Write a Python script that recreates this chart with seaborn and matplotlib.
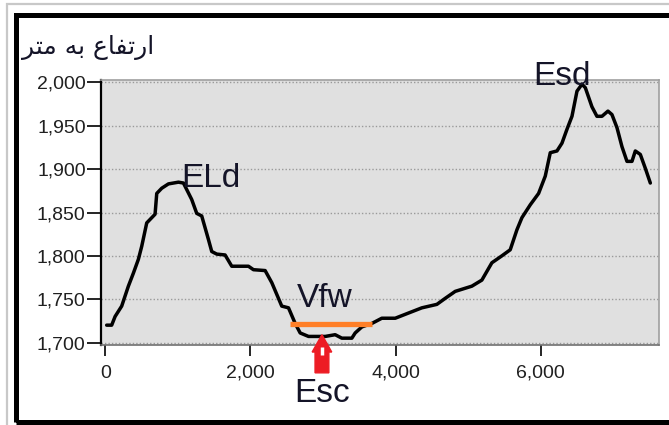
import pandas as pd
import matplotlib.pyplot as plt
import seaborn as sns
from matplotlib.patches import Rectangle, FancyArrow
from matplotlib.ticker import FuncFormatter

# distance along the profile (m) and elevation (m)
dist = [18, 87, 134, 225, 317, 386, 455, 501, 570, 685, 708, 777, 869, 1007, 1076,
        1190, 1259, 1328, 1420, 1466, 1535, 1650, 1742, 1972, 2041, 2202, 2294, 2431,
        2524, 2616, 2685, 2800, 3030, 3167, 3259, 3397, 3443, 3535, 3673, 3810, 3995,
        4178, 4362, 4569, 4685, 4822, 5051, 5189, 5327, 5465, 5580, 5672, 5741, 5857,
        5971, 6063, 6132, 6224, 6293, 6362, 6431, 6500, 6569, 6615, 6706, 6775, 6844,
        6927, 6982, 7051, 7120, 7189, 7258, 7304, 7373, 7442, 7511]
elev = [1720, 1720, 1730, 1742, 1765, 1780, 1796, 1811, 1838, 1848, 1872, 1878, 1883,
        1885, 1884, 1865, 1849, 1846, 1819, 1805, 1802, 1801, 1788, 1788, 1784, 1783,
        1769, 1742, 1740, 1722, 1711, 1707, 1707, 1709, 1705, 1705, 1711, 1718, 1722,
        1728, 1728, 1734, 1740, 1744, 1751, 1759, 1765, 1772, 1792, 1800, 1807, 1830,
        1844, 1859, 1872, 1892, 1919, 1921, 1930, 1946, 1961, 1990, 1998, 1994, 1972,
        1961, 1961, 1967, 1963, 1948, 1926, 1909, 1909, 1921, 1917, 1901, 1884]

# valley floor segment (Vfw)
vfw_x = [2547, 3673]
vfw_y = 1721

# labels: text, x, y
labels = [('ELd', 1048, 1879), ('Vfw', 2635, 1741), ('Esd', 5900, 1997)]
esc_x = 2985
esc_tip, esc_tail = 1709, 1665

yticks = [1700, 1750, 1800, 1850, 1900, 1950, 2000]
xticks = [0, 2000, 4000, 6000]
# Persian y-title "ارتفاع به متر" written in shaped visual order
ytitle = '\uFEAE\uFE98\uFEE3 \uFEEA\uFE91 \uFEC9\uFE8E\uFED4\uFE97\uFEAD\uFE8D'

df = pd.DataFrame({'dist': dist, 'elev': elev})

sns.set_style('white')
plt.rcParams['font.family'] = ['Liberation Sans', 'DejaVu Sans']

fig = plt.figure(figsize=(6.69, 4.25), dpi=100)
ax = fig.add_axes([0.151, 0.188, 0.834, 0.624])
ax.set_facecolor('#e0e0e0')

sns.lineplot(data=df, x='dist', y='elev', ax=ax, color='black', lw=2.5, zorder=3)
ax.hlines(vfw_y, vfw_x[0], vfw_x[1], color='#ff7f27', lw=3.8, zorder=4)

ax.set_xlim(-60, 7630)
ax.set_ylim(1697, 2003)
ax.set_yticks(yticks)
ax.set_xticks(xticks)
fmt = FuncFormatter(lambda v, p: f'{int(v):,}')
ax.yaxis.set_major_formatter(fmt)
ax.xaxis.set_major_formatter(fmt)
ax.set_xlabel('')
ax.set_ylabel('')
ax.grid(axis='y', color='#9a9a9a', ls=(0, (1, 1.5)), lw=1)
ax.set_axisbelow(True)
ax.tick_params(axis='y', length=10, width=1.2, color='black', labelsize=14,
               labelcolor='#202020', pad=1, left=True)
ax.tick_params(axis='x', length=8, width=1.2, color='black', labelsize=14,
               labelcolor='#202020', pad=6, bottom=True)
for s in ['top', 'right']:
    ax.spines[s].set_color('#a0a0a0')
    ax.spines[s].set_linewidth(1.2)
ax.spines['bottom'].set_color('#707070')
ax.spines['bottom'].set_linewidth(1.2)
ax.spines['left'].set_color('black')
ax.spines['left'].set_linewidth(1.6)

for txt, x, y in labels:
    ax.text(x, y, txt, fontsize=24, color='#141428', ha='left', va='baseline',
            clip_on=False, zorder=5)

# red arrow pointing at the valley floor (Esc)
ax.add_patch(FancyArrow(esc_x, esc_tail, 0, esc_tip - esc_tail, width=190,
                        head_width=270, head_length=20, length_includes_head=True,
                        color='#ed1c24', clip_on=False, zorder=6))
ax.plot([esc_x, esc_x], [1686, 1695], color='white', lw=2.5, clip_on=False,
        zorder=7, solid_capstyle='butt')
ax.text(esc_x, 1631, 'Esc', fontsize=24, color='#141428', ha='center',
        va='baseline', clip_on=False)

fig.text(0.033, 0.872, ytitle, fontsize=18, color='#141428',
         family=['DejaVu Sans'], ha='left', va='baseline')

# window frame
fig.add_artist(Rectangle((0.011, -0.05), 1.2, 1.04, transform=fig.transFigure,
                         fill=False, ec='#c8c8c8', lw=1.6))
fig.add_artist(Rectangle((0.024, 0.007), 1.1, 0.958, transform=fig.transFigure,
                         fill=False, ec='black', lw=3.6))

fig.savefig('out.png', dpi=100)
